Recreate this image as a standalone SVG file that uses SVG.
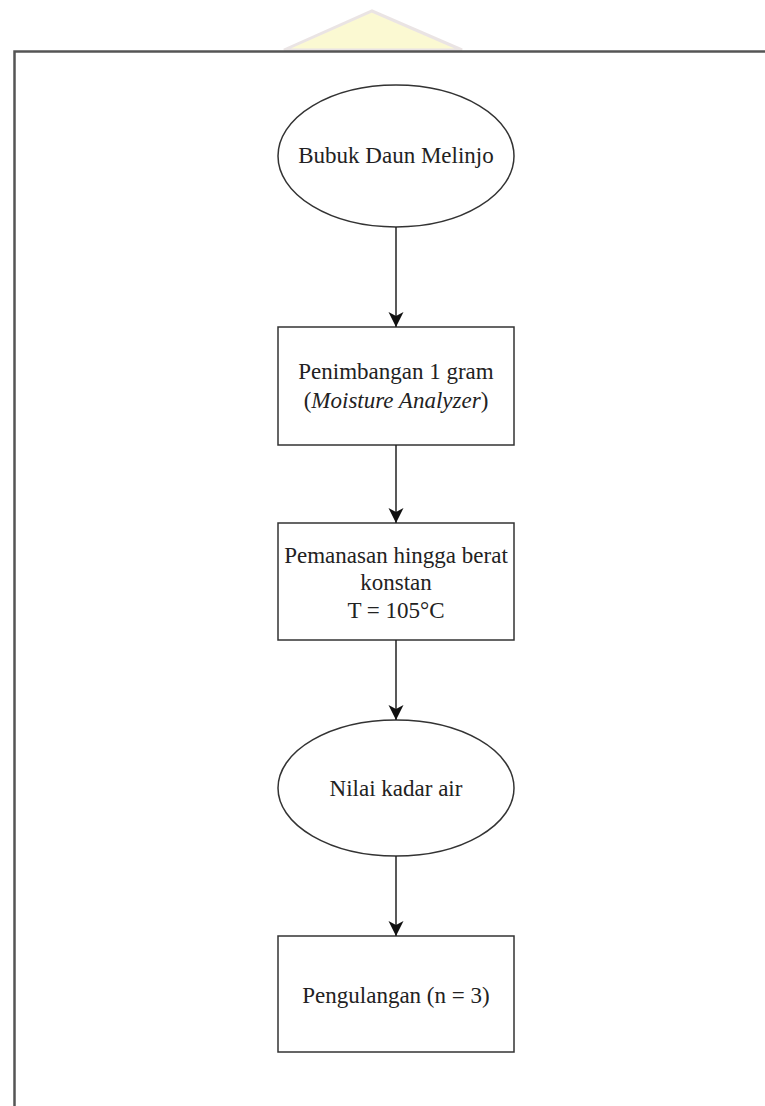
<svg xmlns="http://www.w3.org/2000/svg" width="765" height="1106" viewBox="0 0 765 1106">
<style>
.shape{fill:#fff;stroke:#333;stroke-width:1.5}
.frame{fill:none;stroke:#555;stroke-width:2.5}
.t{font-family:"Liberation Serif","Times New Roman",serif;font-size:23px;fill:#222;text-anchor:middle}
.conn{stroke:#222;stroke-width:1.5;fill:none}
</style>
<defs>
<marker id="arr" markerWidth="16" markerHeight="16" refX="15" refY="7.5" orient="auto" markerUnits="userSpaceOnUse">
<path d="M0,0 L15,7.5 L0,15 L4,7.5 Z" fill="#111"/>
</marker>
</defs>
<g id="watermark">
<path d="M284,50 L372,11 L462,50 Z" fill="#fbf8c8" stroke="#e6dede" stroke-width="3" opacity="0.8"/>
</g>
<rect id="frame" class="frame" x="14.5" y="51.5" width="780" height="1100"/>
<g id="n1"><ellipse class="shape" cx="396" cy="156" rx="118" ry="71"/><text class="t" x="396" y="163">Bubuk Daun Melinjo</text></g>
<g id="n2"><rect class="shape" x="278" y="327" width="236" height="118"/><text class="t" x="396" y="379">Penimbangan 1 gram</text><text class="t" x="396" y="408">(<tspan font-style="italic">Moisture Analyzer</tspan>)</text></g>
<g id="n3"><rect class="shape" x="278" y="523" width="236" height="117"/><text class="t" x="396" y="563">Pemanasan hingga berat</text><text class="t" x="396" y="590">konstan</text><text class="t" x="396" y="618">T = 105°C</text></g>
<g id="n4"><ellipse class="shape" cx="396" cy="788" rx="118" ry="68"/><text class="t" x="396" y="796">Nilai kadar air</text></g>
<g id="n5"><rect class="shape" x="278" y="936" width="236" height="116"/><text class="t" x="396" y="1003">Pengulangan (n = 3)</text></g>
<g id="connectors">
<line class="conn" x1="396" y1="227" x2="396" y2="327" marker-end="url(#arr)"/>
<line class="conn" x1="396" y1="445" x2="396" y2="523" marker-end="url(#arr)"/>
<line class="conn" x1="396" y1="640" x2="396" y2="720" marker-end="url(#arr)"/>
<line class="conn" x1="396" y1="856" x2="396" y2="936" marker-end="url(#arr)"/>
</g>
</svg>
